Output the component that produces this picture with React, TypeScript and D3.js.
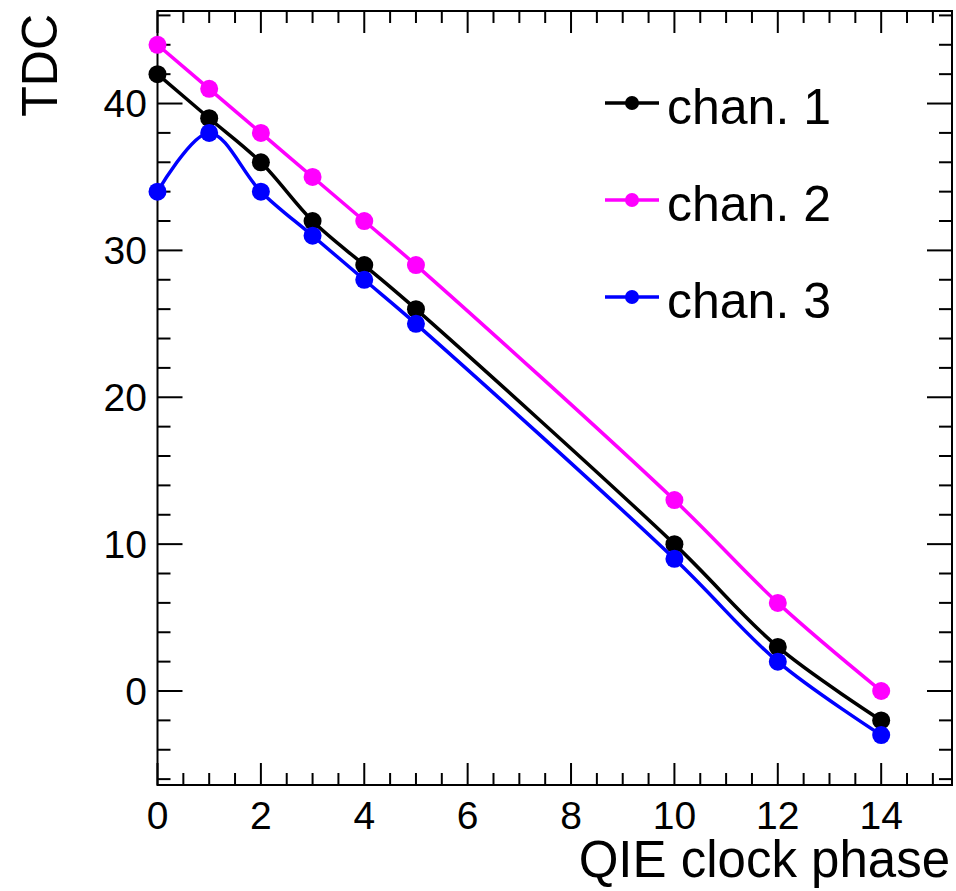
import React, { useRef, useEffect } from 'react';
import * as d3 from 'd3';

// QIE clock phase settings and measured TDC per channel
const phases = [0, 1, 2, 3, 4, 5, 10, 12, 14];
const chan1 = [42, 39, 36, 32, 29, 26, 10, 3, -2];
const chan2 = [44, 41, 38, 35, 32, 29, 13, 6, 0];
const chan3 = [34, 38, 34, 31, 28, 25, 9, 2, -3];

const seriesNames = ['chan. 1', 'chan. 2', 'chan. 3'];
const seriesColors = ['#000000', '#ff00ff', '#0000ff'];

const xTickLabels = [0, 2, 4, 6, 8, 10, 12, 14];
const yTickLabels = [0, 10, 20, 30, 40];

const W = 956;
const H = 891;
const FONT = '"Liberation Sans", Arial, Helvetica, sans-serif';

const App: React.FC = () => {
  const svgRef = useRef<SVGSVGElement>(null);

  useEffect(() => {
    if (!svgRef.current) return;
    const svg = d3.select(svgRef.current);
    svg.selectAll('*').remove();

    const left = 157.5, right = 952, top = 11, bottom = 785;

    const x = d3.scaleLinear().domain([0, 15.37]).range([left, right]);
    const y = d3.scaleLinear().domain([-6.4, 46.3]).range([bottom, top]);

    svg.append('rect')
      .attr('width', W)
      .attr('height', H)
      .attr('fill', '#fff');

    // frame
    svg.append('rect')
      .attr('x', left)
      .attr('y', top)
      .attr('width', right - left)
      .attr('height', bottom - top)
      .attr('fill', 'none')
      .attr('stroke', '#000')
      .attr('stroke-width', 2);

    const ticks = svg.append('g').attr('stroke', '#000').attr('stroke-width', 2);

    // x ticks, bottom and top
    const xMinor = d3.range(0, 15.3, 0.5);
    xMinor.forEach(v => {
      const major = xTickLabels.includes(v);
      const len = major ? 22 : 12;
      ticks.append('line')
        .attr('x1', x(v)).attr('x2', x(v))
        .attr('y1', bottom).attr('y2', bottom - len);
      ticks.append('line')
        .attr('x1', x(v)).attr('x2', x(v))
        .attr('y1', top).attr('y2', top + len);
    });

    // y ticks, left and right
    const yMinor = d3.range(-6, 46.5, 2);
    yMinor.forEach(v => {
      const major = yTickLabels.includes(v);
      const len = major ? 25 : 13;
      ticks.append('line')
        .attr('x1', left).attr('x2', left + len)
        .attr('y1', y(v)).attr('y2', y(v));
      ticks.append('line')
        .attr('x1', right).attr('x2', right - len)
        .attr('y1', y(v)).attr('y2', y(v));
    });

    // tick labels
    svg.append('g')
      .selectAll('text')
      .data(xTickLabels)
      .enter()
      .append('text')
      .attr('x', d => x(d))
      .attr('y', 829)
      .attr('text-anchor', 'middle')
      .attr('font-family', FONT)
      .attr('font-size', 39)
      .text(d => d);

    svg.append('g')
      .selectAll('text')
      .data(yTickLabels)
      .enter()
      .append('text')
      .attr('x', 147)
      .attr('y', d => y(d))
      .attr('dy', '0.35em')
      .attr('text-anchor', 'end')
      .attr('font-family', FONT)
      .attr('font-size', 39)
      .text(d => d);

    // axis titles
    svg.append('text')
      .attr('x', 950)
      .attr('y', 877)
      .attr('text-anchor', 'end')
      .attr('font-family', FONT)
      .attr('font-size', 51)
      .text('QIE clock phase');

    svg.append('text')
      .attr('transform', 'translate(57,14) rotate(-90)')
      .attr('text-anchor', 'end')
      .attr('font-family', FONT)
      .attr('font-size', 50)
      .text('TDC');

    // series
    const allSeries = [chan1, chan2, chan3];
    const line = d3.line<[number, number]>()
      .x(d => x(d[0]))
      .y(d => y(d[1]))
      .curve(d3.curveCatmullRom.alpha(0.5));

    allSeries.forEach((vals, i) => {
      const pts: [number, number][] = phases.map((p, j) => [p, vals[j]]);
      const g = svg.append('g');
      g.append('path')
        .attr('d', line(pts) || '')
        .attr('fill', 'none')
        .attr('stroke', seriesColors[i])
        .attr('stroke-width', 3.5);
      g.selectAll('circle')
        .data(pts)
        .enter()
        .append('circle')
        .attr('cx', d => x(d[0]))
        .attr('cy', d => y(d[1]))
        .attr('r', 9)
        .attr('fill', seriesColors[i]);
    });

    // legend
    const legend = svg.append('g');
    const legendY = [103, 200, 297];
    seriesNames.forEach((name, i) => {
      legend.append('line')
        .attr('x1', 605).attr('x2', 659)
        .attr('y1', legendY[i]).attr('y2', legendY[i])
        .attr('stroke', seriesColors[i])
        .attr('stroke-width', 3.5);
      legend.append('circle')
        .attr('cx', 632)
        .attr('cy', legendY[i])
        .attr('r', 7)
        .attr('fill', seriesColors[i]);
      legend.append('text')
        .attr('x', 667)
        .attr('y', legendY[i] + 21)
        .attr('font-family', FONT)
        .attr('font-size', 50)
        .text(name);
    });
  }, []);

  return (
    <svg
      ref={svgRef}
      width={W}
      height={H}
      style={{ position: 'absolute', left: 0, top: 0, display: 'block' }}
    />
  );
};

export default App;
